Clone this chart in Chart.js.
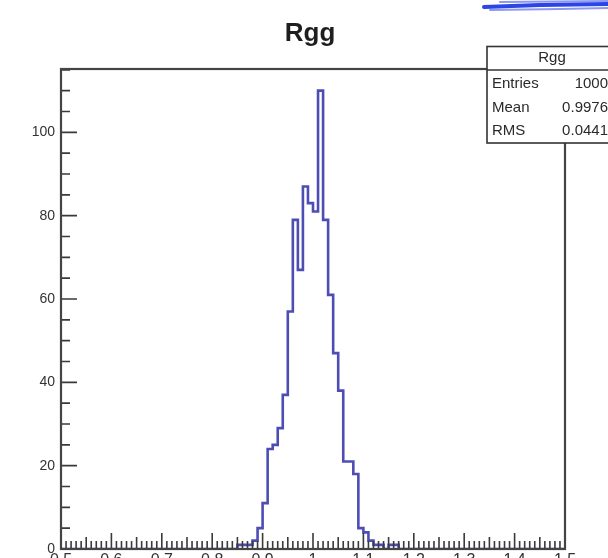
<!DOCTYPE html>
<html><head><meta charset="utf-8">
<script src="https://cdn.jsdelivr.net/npm/chart.js@4.4.1/dist/chart.umd.min.js"></script>
<style>html,body{margin:0;padding:0;background:#fff;}#wrap{width:608px;height:558px;position:relative;overflow:hidden;}canvas{display:block;}</style>
</head><body><div id="wrap"><canvas id="c" width="608" height="558"></canvas></div>
<script>
const chartTitle = "Rgg";
const binLow = 0.5;
const binWidth = 0.01;
const counts = [
  0,0,0,0,0,0,0,0,0,0,
  0,0,0,0,0,0,0,0,0,0,
  0,0,0,0,0,0,0,0,0,0,
  0,0,0,0,0,1,1,1,2,5,
  11,24,25,29,37,57,79,67,87,83,
  81,110,79,61,47,38,21,21,18,5,
  4,2,1,1,0,1,1,0,0,0,
  0,0,0,0,0,0,0,0,0,0,
  0,0,0,0,0,0,0,0,0,0,
  0,0,0,0,0,0,0,0,0,0
];
const xTickLabels = [0.5,0.6,0.7,0.8,0.9,1.0,1.1,1.2,1.3,1.4,1.5];
const yTickLabels = [0,20,40,60,80,100];
const statTitle = "Rgg";
const statNames = ["Entries","Mean","RMS"];
const statValues = ["1000","0.9976","0.0441"];

const FONT = "'Liberation Sans', Arial, Helvetica, sans-serif";

const points = counts.map((c, i) => ({x: binLow + i * binWidth, y: c}));
points.push({x: binLow + counts.length * binWidth, y: counts[counts.length - 1]});

const decor = {
  id: 'decor',
  afterDatasetsDraw(chart) {
    const {ctx, chartArea: a, scales: {x, y}} = chart;
    ctx.save();
    ctx.strokeStyle = '#3a3a3a';
    ctx.lineWidth = 1.6;
    ctx.beginPath();
    for (let v = 0; v <= y.max + 1e-9; v += 5) {
      const py = y.getPixelForValue(v);
      const len = (v % 20 === 0) ? 16 : 9;
      ctx.moveTo(a.left, py); ctx.lineTo(a.left + len, py);
    }
    for (let i = 0; i <= 100; i++) {
      const px = x.getPixelForValue(binLow + i * 0.01);
      const len = (i % 10 === 0) ? 16 : ((i % 5 === 0) ? 12 : 8);
      ctx.moveTo(px, a.bottom); ctx.lineTo(px, a.bottom - len);
    }
    ctx.stroke();
    ctx.lineWidth = 2.2;
    ctx.strokeStyle = '#444';
    ctx.strokeRect(a.left, a.top, a.right - a.left, a.bottom - a.top);
    ctx.restore();
  },
  afterDraw(chart) {
    const {ctx, chartArea: a} = chart;
    ctx.save();
    // title
    ctx.fillStyle = '#1e1e1e';
    ctx.font = "bold 26px " + FONT;
    ctx.textAlign = 'center';
    ctx.textBaseline = 'alphabetic';
    ctx.fillText(chartTitle, 310, 41);
    // stats box
    const bx = 487, by = 46.5, bw = 140, bh = 96.5;
    ctx.fillStyle = '#fff';
    ctx.fillRect(bx, by, bw, bh);
    ctx.strokeStyle = '#333';
    ctx.lineWidth = 1.6;
    ctx.strokeRect(bx, by, bw, bh);
    ctx.beginPath(); ctx.moveTo(bx, 70); ctx.lineTo(bx + bw, 70); ctx.stroke();
    ctx.fillStyle = '#2a2a2a';
    ctx.font = "15px " + FONT;
    ctx.textBaseline = 'middle';
    ctx.textAlign = 'center';
    ctx.fillText(statTitle, 552, 58);
    const rowsY = [84, 108, 131];
    statNames.forEach((n, i) => {
      ctx.textAlign = 'left';
      ctx.fillText(n, 492, rowsY[i]);
      ctx.textAlign = 'right';
      ctx.fillText(statValues[i], 608, rowsY[i]);
    });
    // blue scribble at the top right
    ctx.strokeStyle = '#2b45e6';
    ctx.lineCap = 'round';
    ctx.lineWidth = 4;
    ctx.beginPath(); ctx.moveTo(484, 7); ctx.lineTo(540, 5); ctx.lineTo(608, 4); ctx.stroke();
    ctx.globalAlpha = 0.55;
    ctx.lineWidth = 2;
    ctx.beginPath(); ctx.moveTo(490, 10); ctx.lineTo(560, 9); ctx.lineTo(608, 8); ctx.stroke();
    ctx.beginPath(); ctx.moveTo(500, 2); ctx.lineTo(608, 1); ctx.stroke();
    ctx.restore();
  }
};

new Chart(document.getElementById('c'), {
  type: 'line',
  data: {
    datasets: [{
      data: points,
      stepped: true,
      borderColor: '#4d4db4',
      borderWidth: 2.6,
      pointRadius: 0,
      fill: false,
      tension: 0
    }]
  },
  options: {
    responsive: false,
    animation: false,
    devicePixelRatio: 1,
    layout: {padding: {top: 69, right: 43, left: 0, bottom: 0}},
    plugins: {legend: {display: false}, tooltip: {enabled: false}, title: {display: false}},
    scales: {
      x: {
        type: 'linear', min: 0.5, max: 1.5,
        grid: {display: false, drawTicks: false},
        border: {display: false},
        afterBuildTicks: s => { s.ticks = xTickLabels.map(v => ({value: v})); },
        afterFit: s => { s.height = 9; },
        ticks: {
          padding: 2, maxRotation: 0, autoSkip: false, color: '#333',
          font: {family: FONT, size: 16},
          callback: v => String(parseFloat(Number(v).toFixed(2)))
        }
      },
      y: {
        type: 'linear', min: 0, max: 115.2,
        grid: {display: false, drawTicks: false},
        border: {display: false},
        afterBuildTicks: s => { s.ticks = yTickLabels.map(v => ({value: v})); },
        afterFit: s => { s.width = 61; s.paddingTop = 0; s.paddingBottom = 0; },
        ticks: {
          padding: 6, color: '#333',
          font: {family: FONT, size: 14},
          callback: v => String(v)
        }
      }
    }
  },
  plugins: [decor]
});
</script>
</body></html>
